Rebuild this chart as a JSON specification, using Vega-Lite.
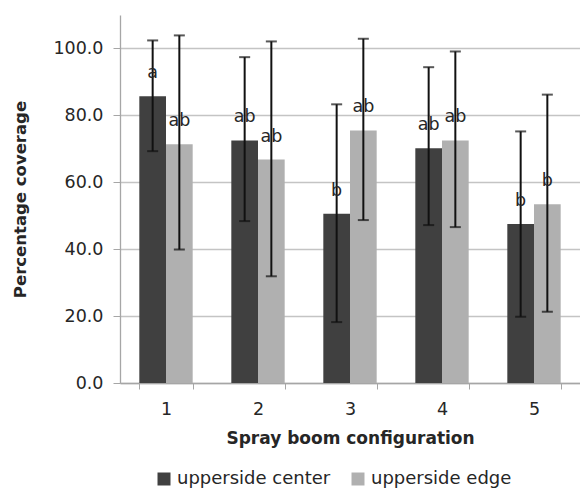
{
  "$schema": "https://vega.github.io/schema/vega-lite/v6.json",
  "autosize": {"type": "none"},
  "padding": {"left": 120, "top": 15, "right": 0, "bottom": 107},
  "width": 460,
  "height": 368,
  "background": "white",
  "config": {
    "view": {"stroke": null},
    "font": "DejaVu Sans",
    "axis": {"labelFont": "DejaVu Sans", "titleFont": "DejaVu Sans", "labelColor": "#262626", "titleColor": "#262626"}
  },
  "data": {
    "values": [
      {"config": "1", "series": "upperside center", "mean": 85.7, "lo": 69.3, "hi": 102.4, "letter": "a"},
      {"config": "1", "series": "upperside edge", "mean": 71.4, "lo": 39.9, "hi": 103.9, "letter": "ab"},
      {"config": "2", "series": "upperside center", "mean": 72.5, "lo": 48.4, "hi": 97.4, "letter": "ab"},
      {"config": "2", "series": "upperside edge", "mean": 66.8, "lo": 31.9, "hi": 102.1, "letter": "ab"},
      {"config": "3", "series": "upperside center", "mean": 50.6, "lo": 18.2, "hi": 83.3, "letter": "b"},
      {"config": "3", "series": "upperside edge", "mean": 75.5, "lo": 48.7, "hi": 102.9, "letter": "ab"},
      {"config": "4", "series": "upperside center", "mean": 70.2, "lo": 47.2, "hi": 94.4, "letter": "ab"},
      {"config": "4", "series": "upperside edge", "mean": 72.5, "lo": 46.6, "hi": 99.1, "letter": "ab"},
      {"config": "5", "series": "upperside center", "mean": 47.5, "lo": 19.8, "hi": 75.2, "letter": "b"},
      {"config": "5", "series": "upperside edge", "mean": 53.4, "lo": 21.3, "hi": 86.2, "letter": "b"}
    ]
  },
  "encoding": {
    "x": {
      "field": "config", "type": "nominal",
      "scale": {"paddingInner": 0.42, "paddingOuter": 0.21},
      "axis": {
        "title": "Spray boom configuration", "titleFontSize": 17, "titleFontWeight": "bold",
        "titleY": 55, "titleBaseline": "middle",
        "labelAngle": 0, "labelFontSize": 17.5, "labelPadding": 11,
        "tickBand": "extent", "tickSize": 6, "tickColor": "#a6a6a6",
        "domainColor": "#a6a6a6", "domainWidth": 1.3, "grid": false
      }
    },
    "xOffset": {"field": "series", "type": "nominal", "scale": {"paddingInner": 0, "paddingOuter": 0}}
  },
  "layer": [
    {
      "mark": {"type": "bar"},
      "encoding": {
        "y": {
          "field": "mean", "type": "quantitative",
          "scale": {"domain": [0, 110], "nice": false},
          "axis": {
            "title": "Percentage coverage", "titleFontSize": 16.5, "titleFontWeight": "bold",
            "titleX": -100, "titleY": 184, "titleAngle": -90, "titleBaseline": "middle", "titleAlign": "center",
            "values": [0, 20, 40, 60, 80, 100], "format": ".1f",
            "labelFontSize": 17.5, "labelPadding": 10, "tickSize": 7, "tickColor": "#a6a6a6",
            "domainColor": "#a6a6a6", "domainWidth": 1.3,
            "gridColor": "#c4c4c4", "gridWidth": 1.3
          }
        },
        "color": {
          "field": "series", "type": "nominal",
          "scale": {"domain": ["upperside center", "upperside edge"], "range": ["#404040", "#b0b0b0"]},
          "legend": {
            "title": null, "orient": "none", "legendX": 35, "legendY": 455, "direction": "horizontal",
            "symbolType": "square", "symbolSize": 169, "symbolStrokeWidth": 0, "labelFontSize": 18,
            "labelFont": "DejaVu Sans", "labelColor": "#262626", "labelOffset": 4, "columnPadding": 18, "padding": 0
          }
        }
      }
    },
    {
      "mark": {"type": "rule", "color": "#111111", "strokeWidth": 2},
      "encoding": {"y": {"field": "lo", "type": "quantitative"}, "y2": {"field": "hi"}}
    },
    {
      "mark": {"type": "tick", "orient": "horizontal", "color": "#111111", "size": 11, "thickness": 2},
      "encoding": {"y": {"field": "hi", "type": "quantitative"}}
    },
    {
      "mark": {"type": "tick", "orient": "horizontal", "color": "#111111", "size": 11, "thickness": 2},
      "encoding": {"y": {"field": "lo", "type": "quantitative"}}
    },
    {
      "mark": {"type": "text", "fontSize": 17.5, "font": "DejaVu Sans", "color": "#262626", "baseline": "alphabetic", "dy": -18},
      "encoding": {"y": {"field": "mean", "type": "quantitative"}, "text": {"field": "letter"}}
    }
  ]
}
